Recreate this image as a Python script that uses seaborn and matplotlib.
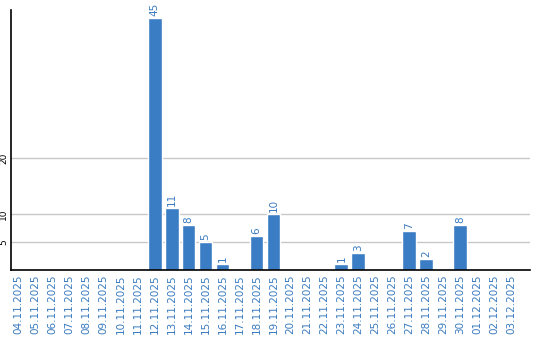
import matplotlib
matplotlib.use("Agg")
import matplotlib.pyplot as plt
import seaborn as sns
import pandas as pd

dates = ["04.11.2025", "05.11.2025", "06.11.2025", "07.11.2025", "08.11.2025",
         "09.11.2025", "10.11.2025", "11.11.2025", "12.11.2025", "13.11.2025",
         "14.11.2025", "15.11.2025", "16.11.2025", "17.11.2025", "18.11.2025",
         "19.11.2025", "20.11.2025", "21.11.2025", "22.11.2025", "23.11.2025",
         "24.11.2025", "25.11.2025", "26.11.2025", "27.11.2025", "28.11.2025",
         "29.11.2025", "30.11.2025", "01.12.2025", "02.12.2025", "03.12.2025"]
values = [0, 0, 0, 0, 0, 0, 0, 0, 45, 11, 8, 5, 1, 0, 6, 10, 0, 0, 0, 1,
          3, 0, 0, 7, 2, 0, 8, 0, 0, 0]
yticks = [5, 10, 20]

sns.set_style("white")
plt.rcParams['font.family'] = ['DejaVu Sans']

bar_color = "#3b7dc4"
text_color = "#3a7bbf"

df = pd.DataFrame({"date": dates, "value": values})
fig = plt.figure(figsize=(5.4, 3.4), dpi=100)
ax = fig.add_axes([11/540, 70/340, (530-11)/540, 260/340])
ax.set_axisbelow(True)
for t in yticks:
    ax.axhline(t, color="#c8c8c8", lw=1, zorder=0)
sns.barplot(data=df, x="date", y="value", color=bar_color, saturation=1,
            width=0.82, ax=ax, zorder=2)
for i, v in enumerate(values):
    if v > 0:
        ax.text(i, v + 0.4, str(v), rotation=90, ha="center", va="bottom",
                color=text_color, fontsize=7.5)
ax.set_xlim(-0.45, 30.1)
ax.set_ylim(0, 46.4)
ax.set_yticks(yticks)
ax.set_yticklabels([str(t) for t in yticks], rotation=90, va="center",
                   fontsize=6.5, color="black")
ax.set_xticks(range(len(dates)))
ax.set_xticklabels(dates, rotation=90, color=text_color, fontsize=7.5)
ax.tick_params(axis="both", length=0, pad=3)
ax.tick_params(axis="y", pad=2)
ax.set_xlabel("")
ax.set_ylabel("")
for s in ["top", "right"]:
    ax.spines[s].set_visible(False)
for s in ["left", "bottom"]:
    ax.spines[s].set_color("black")
    ax.spines[s].set_linewidth(1.2)
fig.savefig("out.png", dpi=100)
